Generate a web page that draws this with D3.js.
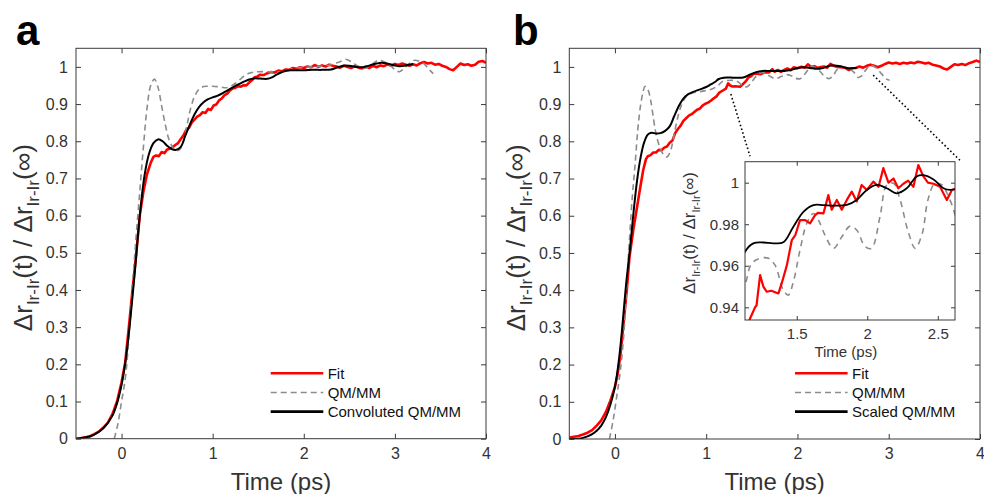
<!DOCTYPE html>
<html><head><meta charset="utf-8">
<script src="https://cdn.jsdelivr.net/npm/d3@7"></script>
<style>html,body{margin:0;padding:0;background:#fff;}svg{display:block;font-family:"Liberation Sans",Arial,sans-serif;}</style>
</head><body>
<svg id="chart" width="984" height="494"></svg>
<script>
// ---------- DATA ----------
const xTicks = [0, 1, 2, 3, 4];
const yTicks = [0, 0.1, 0.2, 0.3, 0.4, 0.5, 0.6, 0.7, 0.8, 0.9, 1];
const insetXTicks = [1.5, 2, 2.5];
const insetYTicks = [0.94, 0.96, 0.98, 1];
const panelLabels = ["a", "b"];
const legendA = ["Fit", "QM/MM", "Convoluted QM/MM"];
const legendB = ["Fit", "QM/MM", "Scaled QM/MM"];

const fitA = [[-0.50,0.000],[-0.45,0.001],[-0.40,0.004],[-0.35,0.006],[-0.30,0.012],[-0.25,0.019],[-0.20,0.030],[-0.15,0.043],[-0.10,0.066],[-0.05,0.100],[0.00,0.152],[0.04,0.205],[0.08,0.300],[0.12,0.400],[0.16,0.495],[0.20,0.600],[0.24,0.665],[0.28,0.712],[0.32,0.742],[0.35,0.758],[0.38,0.762],[0.41,0.760],[0.44,0.771],[0.47,0.768],[0.50,0.778],[0.53,0.780],[0.56,0.784],[0.59,0.790],[0.62,0.795],[0.65,0.806],[0.68,0.816],[0.71,0.831],[0.74,0.836],[0.77,0.850],[0.80,0.858],[0.83,0.866],[0.86,0.870],[0.89,0.878],[0.92,0.876],[0.95,0.887],[0.98,0.884],[1.01,0.896],[1.04,0.899],[1.07,0.910],[1.10,0.915],[1.13,0.924],[1.16,0.928],[1.19,0.937],[1.22,0.942],[1.25,0.944],[1.28,0.948],[1.31,0.947],[1.34,0.951],[1.37,0.950],[1.40,0.958],[1.43,0.964],[1.46,0.972],[1.49,0.974],[1.52,0.979],[1.56,0.978],[1.60,0.983],[1.64,0.986],[1.68,0.985],[1.72,0.990],[1.76,0.988],[1.80,0.993],[1.84,0.992],[1.88,0.997],[1.92,0.995],[1.96,0.999],[2.00,0.997],[2.04,1.001],[2.08,0.999],[2.12,1.005],[2.16,1.000],[2.20,1.004],[2.24,1.001],[2.28,1.006],[2.32,1.003],[2.36,1.001],[2.40,0.998],[2.44,1.003],[2.48,1.000],[2.52,0.997],[2.56,1.002],[2.60,0.998],[2.64,0.996],[2.68,1.001],[2.72,0.997],[2.76,1.003],[2.80,0.999],[2.84,1.004],[2.88,1.002],[2.92,1.007],[2.96,1.003],[3.00,1.008],[3.04,1.005],[3.08,1.009],[3.12,1.006],[3.16,1.003],[3.20,1.007],[3.24,1.004],[3.28,1.010],[3.32,1.013],[3.36,1.009],[3.40,1.011],[3.44,1.006],[3.48,1.008],[3.52,1.003],[3.56,1.000],[3.60,0.994],[3.64,0.991],[3.68,1.000],[3.72,1.009],[3.76,1.005],[3.80,1.007],[3.84,1.003],[3.88,1.006],[3.92,1.014],[3.96,1.016],[4.00,1.011]];

const qmA = [[-0.08,0.000],[-0.04,0.040],[0.00,0.100],[0.04,0.160],[0.08,0.270],[0.12,0.410],[0.16,0.545],[0.20,0.665],[0.24,0.785],[0.28,0.890],[0.32,0.950],[0.36,0.967],[0.40,0.945],[0.44,0.895],[0.48,0.845],[0.52,0.805],[0.56,0.785],[0.60,0.775],[0.64,0.778],[0.68,0.800],[0.72,0.845],[0.76,0.890],[0.80,0.920],[0.85,0.940],[0.90,0.947],[0.95,0.948],[1.00,0.948],[1.05,0.947],[1.10,0.945],[1.15,0.944],[1.20,0.948],[1.25,0.956],[1.30,0.966],[1.35,0.976],[1.40,0.983],[1.45,0.986],[1.50,0.987],[1.60,0.987],[1.70,0.986],[1.80,0.988],[1.85,0.993],[1.90,0.997],[2.00,0.999],[2.10,1.000],[2.20,1.002],[2.30,1.006],[2.40,1.014],[2.47,1.020],[2.53,1.012],[2.60,1.002],[2.67,0.996],[2.74,1.005],[2.82,1.018],[2.88,1.014],[2.94,1.006],[3.00,0.993],[3.05,0.987],[3.12,1.000],[3.20,1.017],[3.26,1.016],[3.32,1.008],[3.38,0.992],[3.42,0.982]];

const convA = [[-0.50,0.000],[-0.40,0.003],[-0.30,0.011],[-0.20,0.028],[-0.10,0.062],[-0.05,0.095],[0.00,0.145],[0.05,0.220],[0.10,0.330],[0.15,0.460],[0.20,0.600],[0.25,0.705],[0.30,0.765],[0.35,0.795],[0.40,0.805],[0.45,0.800],[0.50,0.788],[0.55,0.779],[0.60,0.777],[0.65,0.785],[0.70,0.815],[0.75,0.845],[0.80,0.872],[0.85,0.892],[0.90,0.905],[0.95,0.913],[1.00,0.918],[1.05,0.922],[1.10,0.928],[1.15,0.935],[1.20,0.942],[1.25,0.949],[1.30,0.955],[1.35,0.961],[1.40,0.966],[1.45,0.969],[1.50,0.969],[1.55,0.968],[1.60,0.968],[1.65,0.972],[1.70,0.979],[1.75,0.985],[1.80,0.989],[1.85,0.991],[1.90,0.991],[2.00,0.991],[2.10,0.992],[2.20,0.992],[2.30,0.993],[2.35,0.997],[2.40,1.001],[2.45,1.004],[2.50,1.003],[2.55,1.001],[2.60,0.999],[2.65,0.999],[2.70,1.002],[2.75,1.006],[2.80,1.009],[2.85,1.011],[2.90,1.010],[2.95,1.007],[3.00,1.004],[3.05,1.002],[3.10,1.003],[3.15,1.006],[3.20,1.008]];

const fitB = [[-0.50,0.004],[-0.45,0.006],[-0.40,0.008],[-0.35,0.012],[-0.30,0.017],[-0.25,0.024],[-0.20,0.036],[-0.15,0.050],[-0.10,0.072],[-0.05,0.103],[0.00,0.140],[0.03,0.175],[0.06,0.225],[0.09,0.300],[0.13,0.400],[0.16,0.490],[0.20,0.560],[0.24,0.620],[0.28,0.680],[0.31,0.723],[0.34,0.752],[0.36,0.760],[0.39,0.763],[0.42,0.770],[0.45,0.770],[0.48,0.777],[0.51,0.776],[0.54,0.783],[0.57,0.786],[0.60,0.796],[0.63,0.802],[0.66,0.822],[0.69,0.833],[0.72,0.842],[0.75,0.855],[0.78,0.862],[0.81,0.869],[0.84,0.873],[0.87,0.879],[0.90,0.885],[0.93,0.888],[0.96,0.896],[0.99,0.901],[1.02,0.904],[1.05,0.909],[1.08,0.915],[1.11,0.920],[1.14,0.930],[1.169,0.9346],[1.204,0.940],[1.215,0.941],[1.24,0.9555],[1.263,0.950],[1.287,0.9475],[1.32,0.948],[1.37,0.9467],[1.393,0.9515],[1.43,0.9603],[1.465,0.9724],[1.49,0.9748],[1.523,0.982],[1.56,0.982],[1.594,0.9804],[1.63,0.9844],[1.65,0.9855],[1.689,0.9852],[1.724,0.994],[1.748,0.987],[1.784,0.9917],[1.819,0.987],[1.855,0.9917],[1.89,0.9957],[1.925,0.991],[1.96,0.9989],[1.997,0.9965],[2.043,1.0005],[2.08,0.998],[2.114,1.007],[2.15,1.000],[2.186,1.002],[2.22,0.9973],[2.256,0.9995],[2.29,1.001],[2.327,0.998],[2.362,1.0085],[2.398,1.003],[2.43,1.000],[2.47,0.9995],[2.516,0.998],[2.564,0.9917],[2.60,0.9965],[2.64,0.997],[2.68,1.001],[2.72,0.998],[2.76,1.003],[2.80,1.006],[2.84,1.003],[2.88,0.999],[2.92,1.003],[2.96,1.008],[3.00,1.012],[3.04,1.009],[3.08,1.011],[3.12,1.008],[3.16,1.011],[3.20,1.009],[3.24,1.012],[3.28,1.010],[3.32,1.014],[3.36,1.012],[3.40,1.009],[3.44,1.011],[3.48,1.006],[3.52,1.004],[3.56,1.001],[3.60,0.996],[3.64,0.993],[3.68,1.000],[3.72,1.007],[3.76,1.005],[3.80,1.008],[3.84,1.005],[3.88,1.010],[3.92,1.013],[3.96,1.017],[4.00,1.013]];

const qmB = [[-0.06,0.000],[-0.02,0.050],[0.02,0.115],[0.06,0.185],[0.10,0.290],[0.13,0.420],[0.16,0.540],[0.19,0.650],[0.22,0.735],[0.25,0.830],[0.28,0.895],[0.31,0.935],[0.33,0.948],[0.36,0.940],[0.39,0.912],[0.42,0.865],[0.45,0.820],[0.49,0.786],[0.53,0.765],[0.57,0.758],[0.61,0.775],[0.65,0.820],[0.69,0.866],[0.73,0.898],[0.78,0.920],[0.85,0.930],[0.93,0.933],[1.00,0.937],[1.07,0.941],[1.133,0.9507],[1.18,0.9611],[1.24,0.9636],[1.30,0.9636],[1.346,0.9603],[1.405,0.9483],[1.44,0.9459],[1.476,0.9523],[1.523,0.9676],[1.571,0.9804],[1.618,0.9852],[1.654,0.982],[1.70,0.9748],[1.76,0.9684],[1.82,0.974],[1.878,0.9791],[1.925,0.9772],[1.985,0.9692],[2.03,0.9684],[2.09,0.9836],[2.138,0.9989],[2.186,0.9997],[2.233,0.9917],[2.29,0.9764],[2.34,0.9684],[2.39,0.9756],[2.43,0.9917],[2.48,0.9997],[2.53,0.9989],[2.576,0.9933],[2.62,0.9852],[2.66,0.972],[2.70,0.975],[2.75,0.992],[2.80,1.004],[2.86,0.998],[2.92,0.982],[2.97,0.968],[3.01,0.964]];

const scaledB = [[-0.50,0.000],[-0.40,0.001],[-0.35,0.003],[-0.30,0.007],[-0.25,0.013],[-0.20,0.022],[-0.15,0.036],[-0.10,0.058],[-0.05,0.092],[0.00,0.140],[0.04,0.205],[0.08,0.300],[0.12,0.410],[0.16,0.500],[0.20,0.600],[0.24,0.690],[0.28,0.755],[0.32,0.797],[0.36,0.818],[0.40,0.823],[0.45,0.821],[0.50,0.822],[0.55,0.828],[0.60,0.840],[0.65,0.868],[0.70,0.895],[0.75,0.915],[0.80,0.926],[0.85,0.932],[0.90,0.937],[0.95,0.941],[1.00,0.946],[1.05,0.953],[1.10,0.960],[1.133,0.9668],[1.192,0.9708],[1.263,0.9712],[1.334,0.9708],[1.405,0.9713],[1.476,0.9788],[1.547,0.986],[1.618,0.9892],[1.689,0.9892],[1.76,0.989],[1.855,0.9893],[1.925,0.9917],[1.997,0.9965],[2.067,0.9989],[2.138,0.9973],[2.209,0.9949],[2.28,0.9973],[2.35,1.003],[2.398,1.0036],[2.47,1.0015],[2.54,0.9973],[2.588,0.9965],[2.62,0.997],[2.65,0.998]];

// zoom connector endpoints (main panel b data coordinates)
const connectorStart = [[1.27, 0.927], [2.83, 0.978]];
const connectorEnd = [[1.48, 0.760], [3.78, 0.749]];

// ---------- DRAWING ----------
const svg = d3.select("#chart");
const FONT = '"Liberation Sans", Arial, sans-serif';
const AX = "#3a3a3a", TXT = "#333";

function addYLabel(g, x, y, size, subSize, dy) {
  const t = g.append("text").attr("transform", `translate(${x},${y}) rotate(-90)`)
    .attr("text-anchor", "middle").attr("font-size", size).attr("fill", TXT);
  t.append("tspan").text("\u0394r");
  t.append("tspan").attr("font-size", subSize).attr("dy", dy).text("Ir-Ir");
  t.append("tspan").attr("dy", -dy).text("(t) / \u0394r");
  t.append("tspan").attr("font-size", subSize).attr("dy", dy).text("Ir-Ir");
  t.append("tspan").attr("dy", -dy).text("(\u221E)");
}

function boxAxes(g, x, y, w, h, xt, yt, tickLen, fs, xfmt, yfmt, xLabOff, yLabOff) {
  g.append("g").attr("transform", `translate(0,${h})`)
    .call(d3.axisBottom(x).tickValues(xt).tickSize(-tickLen).tickPadding(xLabOff).tickFormat(xfmt))
    .call(s => { s.select(".domain").remove(); s.selectAll("line").attr("stroke", AX);
      s.selectAll("text").attr("font-size", fs).attr("fill", TXT).attr("font-family", FONT); });
  g.append("g").call(d3.axisTop(x).tickValues(xt).tickSize(-tickLen).tickFormat(""))
    .call(s => { s.select(".domain").remove(); s.selectAll("line").attr("stroke", AX); });
  g.append("g").call(d3.axisLeft(y).tickValues(yt).tickSize(-tickLen).tickPadding(yLabOff).tickFormat(yfmt))
    .call(s => { s.select(".domain").remove(); s.selectAll("line").attr("stroke", AX);
      s.selectAll("text").attr("font-size", fs).attr("fill", TXT).attr("font-family", FONT); });
  g.append("g").attr("transform", `translate(${w},0)`)
    .call(d3.axisRight(y).tickValues(yt).tickSize(-tickLen).tickFormat(""))
    .call(s => { s.select(".domain").remove(); s.selectAll("line").attr("stroke", AX); });
  g.append("rect").attr("width", w).attr("height", h).attr("fill", "none").attr("stroke", AX).attr("stroke-width", 1);
}

function lineGen(x, y, smooth) {
  const l = d3.line().x(d => x(d[0])).y(d => y(d[1]));
  return smooth ? l.curve(d3.curveCatmullRom.alpha(0.5)) : l;
}

function panel(cfg) {
  const { left, top, w, h, id } = cfg;
  const g = svg.append("g").attr("transform", `translate(${left},${top})`);
  const x = d3.scaleLinear().domain([-0.5, 4]).range([0, w]);
  const y = d3.scaleLinear().domain([0, 1.05]).range([h, 0]);
  svg.append("clipPath").attr("id", "clip" + id).append("rect").attr("width", w).attr("height", h);
  const plot = g.append("g").attr("clip-path", `url(#clip${id})`);
  plot.append("path").datum(cfg.fit).attr("d", lineGen(x, y, false))
    .attr("fill", "none").attr("stroke", "#ff0000").attr("stroke-width", 2.6).attr("stroke-linejoin", "round");
  plot.append("path").datum(cfg.qm).attr("d", lineGen(x, y, true))
    .attr("fill", "none").attr("stroke", "#8c8c8c").attr("stroke-width", 1.6).attr("stroke-dasharray", "6,4");
  plot.append("path").datum(cfg.model).attr("d", lineGen(x, y, true))
    .attr("fill", "none").attr("stroke", "#000").attr("stroke-width", 2);
  boxAxes(g, x, y, w, h, xTicks, yTicks, 5, 16, d3.format("d"), d => d3.format("")(+d.toFixed(1)), 9, 8);
  g.append("text").attr("x", x(1.75)).attr("y", h + 51).attr("text-anchor", "middle")
    .attr("font-size", 24).attr("fill", TXT).text("Time (ps)");
  addYLabel(svg, cfg.ylabX, top + h * 0.485, 26, 17, 7);
  svg.append("text").attr("x", cfg.letterX).attr("y", 45).attr("font-size", 42).attr("font-weight", "bold")
    .attr("fill", "#000").text(cfg.letter);
  const leg = g.append("g").attr("transform", `translate(${cfg.legX},${cfg.legY})`);
  const styles = [
    { c: "#ff0000", w: 2.6, d: null },
    { c: "#8c8c8c", w: 1.6, d: "6,4" },
    { c: "#000", w: 2.8, d: null }];
  cfg.legend.forEach((lab, i) => {
    const row = leg.append("g").attr("transform", `translate(0,${i * 19.2})`);
    row.append("line").attr("x1", 0).attr("x2", 52.6).attr("stroke", styles[i].c)
      .attr("stroke-width", styles[i].w).attr("stroke-dasharray", styles[i].d);
    row.append("text").attr("x", 57).attr("y", 5.5).attr("font-size", 15).attr("fill", "#111").text(lab);
  });
  return { g, x, y };
}

const pa = panel({ id: "a", left: 76, top: 48.3, w: 410, h: 390.4, fit: fitA, qm: qmA, model: convA,
  letter: panelLabels[0], letterX: 16, ylabX: 32, legend: legendA, legX: 194.7, legY: 325 });
const pb = panel({ id: "b", left: 569.3, top: 48.3, w: 410.7, h: 390.7, fit: fitB, qm: qmB, model: scaledB,
  letter: panelLabels[1], letterX: 513, ylabX: 525, legend: legendB, legX: 225.7, legY: 325 });

connectorStart.forEach((s, i) => {
  const e = connectorEnd[i];
  pb.g.append("line").attr("x1", pb.x(s[0])).attr("y1", pb.y(s[1]))
    .attr("x2", pb.x(e[0])).attr("y2", pb.y(e[1]))
    .attr("stroke", "#000").attr("stroke-width", 1.6).attr("stroke-dasharray", "1.6,2.4");
});

(function () {
  const L = 745, T = 161.7, W = 210, H = 158.3;
  const g = svg.append("g").attr("transform", `translate(${L},${T})`);
  g.append("rect").attr("width", W).attr("height", H).attr("fill", "#fff");
  const x = d3.scaleLinear().domain([1.133, 2.622]).range([0, W]);
  const y = d3.scaleLinear().domain([0.9339, 1.0101]).range([H, 0]);
  svg.append("clipPath").attr("id", "clipi").append("rect").attr("width", W).attr("height", H);
  const plot = g.append("g").attr("clip-path", "url(#clipi)");
  plot.append("path").datum(qmB).attr("d", lineGen(x, y, true))
    .attr("fill", "none").attr("stroke", "#8c8c8c").attr("stroke-width", 1.6).attr("stroke-dasharray", "6,5");
  plot.append("path").datum(fitB).attr("d", lineGen(x, y, false))
    .attr("fill", "none").attr("stroke", "#ff0000").attr("stroke-width", 2.2).attr("stroke-linejoin", "round");
  plot.append("path").datum(scaledB).attr("d", lineGen(x, y, true))
    .attr("fill", "none").attr("stroke", "#000").attr("stroke-width", 1.8);
  boxAxes(g, x, y, W, H, insetXTicks, insetYTicks, 4, 15, d => d3.format("")(d), d => d3.format("")(+d.toFixed(2)), 8, 6);
  g.append("text").attr("x", W * 0.48).attr("y", H + 37).attr("text-anchor", "middle")
    .attr("font-size", 15).attr("fill", TXT).text("Time (ps)");
  addYLabel(svg, 695, T + H * 0.45, 17, 11, 4.5);
})();
</script>
</body></html>
